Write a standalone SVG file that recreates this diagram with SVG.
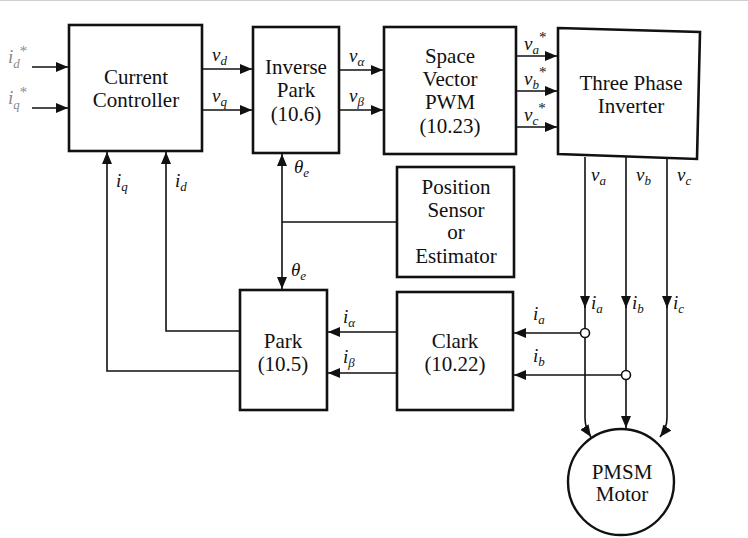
<svg xmlns="http://www.w3.org/2000/svg" width="748" height="538" viewBox="0 0 748 538" font-family="'Liberation Serif', 'DejaVu Serif', serif">
<style>
.box{fill:#fff;stroke:#111;stroke-width:2.6}
.t{font-size:21px;fill:#111;text-anchor:middle}
.lb{font-style:italic;font-size:19px;fill:#111}
.sub{font-size:13px}
.st{font-size:15px;font-style:normal}
.grey{fill:#8a8a8a}
.c{fill:none;stroke:#111;stroke-width:1.6}
</style>
<defs>
<marker id="ah" viewBox="0 0 12 10" refX="12" refY="5" markerWidth="12" markerHeight="10" markerUnits="userSpaceOnUse" orient="auto-start-reverse">
<path d="M0,0 L12,5 L0,10 Z" fill="#111"/>
</marker>
</defs>
<rect width="748" height="538" fill="#fff"/>
<line x1="0" y1="0.5" x2="748" y2="0.5" stroke="#cfcfcf" stroke-width="1"/>

<g id="connectors">
<path class="c" d="M32,67 H68" marker-end="url(#ah)"/>
<path class="c" d="M32,108 H68" marker-end="url(#ah)"/>
<path class="c" d="M202,69 H252" marker-end="url(#ah)"/>
<path class="c" d="M202,110 H252" marker-end="url(#ah)"/>
<path class="c" d="M339,70 H383" marker-end="url(#ah)"/>
<path class="c" d="M339,110 H383" marker-end="url(#ah)"/>
<path class="c" d="M516,56 H557" marker-end="url(#ah)"/>
<path class="c" d="M516,91 H557" marker-end="url(#ah)"/>
<path class="c" d="M516,127 H557" marker-end="url(#ah)"/>
<path class="c" d="M282,154 V289" marker-start="url(#ah)" marker-end="url(#ah)"/>
<path class="c" d="M282,222 H397"/>
<path class="c" d="M240,371 H107 V152" marker-end="url(#ah)"/>
<path class="c" d="M240,331 H166 V152" marker-end="url(#ah)"/>
<path class="c" d="M585,157 V308" marker-end="url(#ah)"/>
<path class="c" d="M585,306 V418 Q585,428 591,437" marker-end="url(#ah)"/>
<path class="c" d="M626,157 V308" marker-end="url(#ah)"/>
<path class="c" d="M626,306 V428" marker-end="url(#ah)"/>
<path class="c" d="M667,157 V308" marker-end="url(#ah)"/>
<path class="c" d="M667,306 V418 Q667,428 660,437" marker-end="url(#ah)"/>
<path class="c" d="M580.5,333 H514" marker-end="url(#ah)"/>
<path class="c" d="M621.5,375 H514" marker-end="url(#ah)"/>
<circle cx="585" cy="333" r="4.5" fill="#fff" stroke="#111" stroke-width="1.6"/>
<circle cx="626" cy="375" r="4.5" fill="#fff" stroke="#111" stroke-width="1.6"/>
<path class="c" d="M397,332 H328" marker-end="url(#ah)"/>
<path class="c" d="M397,373 H328" marker-end="url(#ah)"/>
</g>

<g id="labels" font-family="'Liberation Serif', 'DejaVu Serif', serif">
<text class="lb grey" x="8" y="63">i<tspan class="sub" dy="5">d</tspan><tspan class="st" dy="-12">*</tspan></text>
<text class="lb grey" x="8" y="104">i<tspan class="sub" dy="5">q</tspan><tspan class="st" dy="-12">*</tspan></text>
<text class="lb" x="212" y="61">v<tspan class="sub" dy="4">d</tspan></text>
<text class="lb" x="212" y="102">v<tspan class="sub" dy="4">q</tspan></text>
<text class="lb" x="349" y="62">v<tspan class="sub" dy="4">α</tspan></text>
<text class="lb" x="349" y="102">v<tspan class="sub" dy="4">β</tspan></text>
<text class="lb" x="524" y="50">v<tspan class="sub" dy="4">a</tspan><tspan class="st" dy="-12">*</tspan></text>
<text class="lb" x="524" y="85">v<tspan class="sub" dy="4">b</tspan><tspan class="st" dy="-12">*</tspan></text>
<text class="lb" x="524" y="121">v<tspan class="sub" dy="4">c</tspan><tspan class="st" dy="-12">*</tspan></text>
<text class="lb" x="591" y="181">v<tspan class="sub" dy="4">a</tspan></text>
<text class="lb" x="636" y="181">v<tspan class="sub" dy="4">b</tspan></text>
<text class="lb" x="677" y="181">v<tspan class="sub" dy="4">c</tspan></text>
<text class="lb" x="116" y="187">i<tspan class="sub" dy="4">q</tspan></text>
<text class="lb" x="175" y="187">i<tspan class="sub" dy="4">d</tspan></text>
<text class="lb" x="294" y="173">θ<tspan class="sub" dy="4">e</tspan></text>
<text class="lb" x="291" y="276">θ<tspan class="sub" dy="4">e</tspan></text>
<text class="lb" x="343" y="323">i<tspan class="sub" dy="4">α</tspan></text>
<text class="lb" x="343" y="363">i<tspan class="sub" dy="4">β</tspan></text>
<text class="lb" x="533" y="320">i<tspan class="sub" dy="4">a</tspan></text>
<text class="lb" x="533" y="362">i<tspan class="sub" dy="4">b</tspan></text>
<text class="lb" x="591" y="309">i<tspan class="sub" dy="4">a</tspan></text>
<text class="lb" x="632" y="309">i<tspan class="sub" dy="4">b</tspan></text>
<text class="lb" x="673" y="309">i<tspan class="sub" dy="4">c</tspan></text>
</g>

<g id="current-controller">
<rect class="box" x="69" y="25" width="133" height="126"/>
<text class="t" x="136" y="84">Current</text>
<text class="t" x="136" y="107">Controller</text>
</g>
<g id="inverse-park">
<rect class="box" x="253" y="27" width="86" height="126"/>
<text class="t" x="296" y="74">Inverse</text>
<text class="t" x="296" y="97">Park</text>
<text class="t" x="296" y="121">(10.6)</text>
</g>
<g id="svpwm">
<rect class="box" x="384" y="27" width="132" height="127"/>
<text class="t" x="450" y="63">Space</text>
<text class="t" x="450" y="86">Vector</text>
<text class="t" x="450" y="109">PWM</text>
<text class="t" x="450" y="133">(10.23)</text>
</g>
<g id="inverter">
<path class="box" d="M558,28 L700,32 L697,159 L558,154 Z"/>
<text class="t" x="631" y="90">Three Phase</text>
<text class="t" x="631" y="113">Inverter</text>
</g>
<g id="position-sensor">
<rect class="box" x="397" y="167" width="117" height="110"/>
<text class="t" x="456" y="194">Position</text>
<text class="t" x="456" y="217">Sensor</text>
<text class="t" x="456" y="239">or</text>
<text class="t" x="456" y="263">Estimator</text>
</g>
<g id="park">
<rect class="box" x="240" y="290" width="87" height="120"/>
<text class="t" x="283" y="348">Park</text>
<text class="t" x="283" y="371">(10.5)</text>
</g>
<g id="clark">
<rect class="box" x="397" y="292" width="116" height="118"/>
<text class="t" x="455" y="348">Clark</text>
<text class="t" x="455" y="371">(10.22)</text>
</g>
<g id="pmsm">
<circle cx="621" cy="482" r="53" fill="#fff" stroke="#111" stroke-width="2.4"/>
<text class="t" x="622" y="479">PMSM</text>
<text class="t" x="622" y="501">Motor</text>
</g>
</svg>
